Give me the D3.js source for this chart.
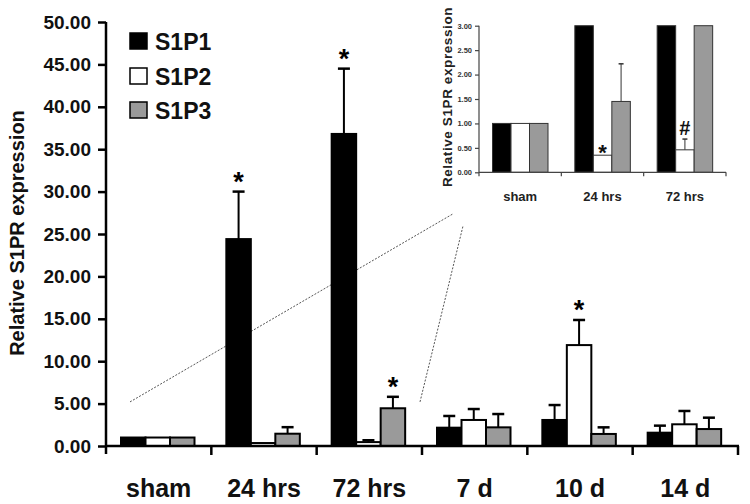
<!DOCTYPE html>
<html><head><meta charset="utf-8">
<script src="https://cdn.jsdelivr.net/npm/d3@7"></script>
<style>body{margin:0;background:#fff}svg{display:block}text{font-family:Arial,"Liberation Sans",sans-serif;font-weight:bold}</style>
</head><body>
<svg id="c" width="750" height="504"></svg>
<script>
// ---- data ----
const categories = ["sham", "24 hrs", "72 hrs", "7 d", "10 d", "14 d"];
const seriesNames = ["S1P1", "S1P2", "S1P3"];
const seriesColors = ["#000000", "#ffffff", "#9a9a9a"];
const s1p1 = [1.00, 24.4, 36.8, 2.16, 3.07, 1.57];
const s1p2 = [1.00, 0.35, 0.46, 3.07, 11.9, 2.56];
const s1p3 = [1.00, 1.45, 4.45, 2.20, 1.42, 2.00];
const s1p1Err = [null, 30.0, 44.5, 3.54, 4.83, 2.40];
const s1p2Err = [null, null, 0.68, 4.36, 14.86, 4.13];
const s1p3Err = [null, 2.22, 5.80, 3.77, 2.20, 3.34];
const mainStars = [[1,0,"*"],[2,0,"*"],[2,2,"*"],[4,1,"*"]]; // [category, series, mark]
const yTicks = [0,5,10,15,20,25,30,35,40,45,50];
// inset
const insetCats = ["sham", "24 hrs", "72 hrs"];
const insetTicks = [0,0.5,1,1.5,2,2.5,3];
const insetMax = 3;
const insetErrShown = [[1,2],[2,1]];
const insetMarks = [[1,1,"*"],[2,1,"#"]];
const zoomFrom = 5.2; // value on main axis where the zoom lines meet

const values = [s1p1, s1p2, s1p3];
const errs = [s1p1Err, s1p2Err, s1p3Err];

const svg = d3.select("#c");

// ---- main chart ----
const y = d3.scaleLinear().domain([0,50]).range([446,22]);
const x0 = d3.scaleBand().domain(categories).range([106,738]).padding(0);
const x1 = d3.scaleBand().domain(seriesNames).range([15,88.5]).padding(0);

// zoom dotted lines (behind bars)
const ix0 = d3.scaleBand().domain(insetCats).range([479,726]).padding(0);
const iy = d3.scaleLinear().domain([0,insetMax]).range([172.3,25.7]);
const zl = svg.append("g").attr("stroke","#555").attr("stroke-width",1).attr("stroke-dasharray","2,1.5").attr("fill","none");
zl.append("line").attr("x1", x0("sham")+24).attr("y1", y(zoomFrom)).attr("x2", ix0.range()[0]-26).attr("y2", iy(-0.85));
zl.append("line").attr("x1", x0("7 d")-2).attr("y1", y(zoomFrom)).attr("x2", ix0.range()[0]-16).attr("y2", iy(-1.1));

const rows = [];
categories.forEach((c,i)=>seriesNames.forEach((s,j)=>rows.push({c,i,s,j,v:values[j][i],e:errs[j][i]})));

const g = svg.append("g");
// error bars
rows.filter(d=>d.e!=null).forEach(d=>{
  const cx = x0(d.c)+x1(d.s)+x1.bandwidth()/2;
  g.append("line").attr("x1",cx).attr("x2",cx).attr("y1",y(d.v)).attr("y2",y(d.e)).attr("stroke","#000").attr("stroke-width",2);
  g.append("line").attr("x1",cx-6).attr("x2",cx+6).attr("y1",y(d.e)).attr("y2",y(d.e)).attr("stroke","#000").attr("stroke-width",2.5);
});
g.selectAll("rect.bar").data(rows).join("rect")
  .attr("x",d=>x0(d.c)+x1(d.s)).attr("width",x1.bandwidth())
  .attr("y",d=>y(d.v)).attr("height",d=>y(0)-y(d.v))
  .attr("fill",d=>seriesColors[d.j]).attr("stroke","#000").attr("stroke-width",2);

// stars
mainStars.forEach(([ci,sj,m])=>{
  const cx = x0(categories[ci])+x1(seriesNames[sj])+x1.bandwidth()/2;
  const top = errs[sj][ci]!=null?errs[sj][ci]:values[sj][ci];
  svg.append("text").attr("x",cx).attr("y",y(top)-1).attr("text-anchor","middle").attr("font-size",27).text(m);
});

// y axis
const yAxis = svg.append("g").attr("transform","translate(106,0)")
  .call(d3.axisLeft(y).tickValues(yTicks).tickFormat(d3.format(".2f")).tickSize(8).tickPadding(7));
yAxis.select(".domain").attr("stroke","#000").attr("stroke-width",2.5).attr("d","M0,"+(y(0)+8)+"V"+y(50));
yAxis.selectAll(".tick line").attr("stroke","#000").attr("stroke-width",2.5);
yAxis.selectAll("text").attr("font-size",19).attr("fill","#111").attr("font-family","Arial,'Liberation Sans',sans-serif").attr("font-weight","bold");

// x axis
svg.append("line").attr("x1",106).attr("x2",739).attr("y1",y(0)).attr("y2",y(0)).attr("stroke","#000").attr("stroke-width",2.5);
const bounds = categories.map(c=>x0(c)+x0.bandwidth());
svg.selectAll("line.xt").data(bounds).join("line").attr("class","xt")
  .attr("x1",d=>d).attr("x2",d=>d).attr("y1",y(0)).attr("y2",y(0)+9).attr("stroke","#000").attr("stroke-width",2.5);
svg.selectAll("text.xl").data(categories).join("text").attr("class","xl")
  .attr("x",d=>x0(d)+x0.bandwidth()/2).attr("y",497).attr("text-anchor","middle").attr("font-size",25).attr("fill","#111").text(d=>d);

// y title
svg.append("text").attr("transform","translate(24,233) rotate(-90)").attr("text-anchor","middle").attr("font-size",20).attr("fill","#111").text("Relative S1PR expression");

// legend
seriesNames.forEach((s,j)=>{
  const ly = [33,68,102][j];
  svg.append("rect").attr("x",130).attr("y",ly).attr("width",17).attr("height",16).attr("fill",seriesColors[j]).attr("stroke","#000").attr("stroke-width",1.5);
  svg.append("text").attr("x",155).attr("y",ly+17).attr("font-size",23).attr("fill","#111").text(s);
});

// ---- inset ----
const ix1 = d3.scaleBand().domain(seriesNames).range([13.5,69]).padding(0);
const ig = svg.append("g");
const irows = [];
insetCats.forEach((c,i)=>seriesNames.forEach((s,j)=>irows.push({c,i,s,j,v:Math.min(values[j][i],insetMax)})));
insetErrShown.forEach(([ci,sj])=>{
  const cx = ix0(insetCats[ci])+ix1(seriesNames[sj])+ix1.bandwidth()/2;
  ig.append("line").attr("x1",cx).attr("x2",cx).attr("y1",iy(values[sj][ci])).attr("y2",iy(errs[sj][ci])).attr("stroke","#333").attr("stroke-width",1);
  ig.append("line").attr("x1",cx-2.5).attr("x2",cx+2.5).attr("y1",iy(errs[sj][ci])).attr("y2",iy(errs[sj][ci])).attr("stroke","#333").attr("stroke-width",1.5);
});
ig.selectAll("rect").data(irows).join("rect")
  .attr("x",d=>ix0(d.c)+ix1(d.s)).attr("width",ix1.bandwidth())
  .attr("y",d=>iy(d.v)).attr("height",d=>iy(0)-iy(d.v))
  .attr("fill",d=>seriesColors[d.j]).attr("stroke","#333").attr("stroke-width",1);
insetMarks.forEach(([ci,sj,m])=>{
  const cx = ix0(insetCats[ci])+ix1(seriesNames[sj])+ix1.bandwidth()/2;
  const top = (insetErrShown.some(p=>p[0]===ci&&p[1]===sj))?errs[sj][ci]:values[sj][ci];
  svg.append("text").attr("x",cx).attr("y",iy(top)+(m==="*"?5:-4)).attr("text-anchor","middle").attr("font-size",m==="*"?22:20).attr("fill","#111").text(m);
});
const iAxis = svg.append("g").attr("transform","translate(479,0)")
  .call(d3.axisLeft(iy).tickValues(insetTicks).tickFormat(d3.format(".2f")).tickSize(4).tickPadding(3));
iAxis.select(".domain").attr("stroke","#444").attr("stroke-width",1.2).attr("d","M0,"+(iy(0)+4)+"V"+iy(insetMax));
iAxis.selectAll(".tick line").attr("stroke","#444").attr("stroke-width",1.2);
iAxis.selectAll("text").attr("font-size",7.5).attr("fill","#333").attr("font-family","Arial,'Liberation Sans',sans-serif").attr("font-weight","bold");
svg.append("line").attr("x1",479).attr("x2",726).attr("y1",iy(0)).attr("y2",iy(0)).attr("stroke","#444").attr("stroke-width",1.2);
svg.selectAll("line.ixt").data(insetCats.map(c=>ix0(c)+ix0.bandwidth())).join("line").attr("class","ixt")
  .attr("x1",d=>d).attr("x2",d=>d).attr("y1",iy(0)).attr("y2",iy(0)+4).attr("stroke","#444").attr("stroke-width",1.2);
svg.selectAll("text.ixl").data(insetCats).join("text").attr("class","ixl")
  .attr("x",d=>ix0(d)+ix0.bandwidth()/2).attr("y",201).attr("text-anchor","middle").attr("font-size",13).attr("fill","#222").text(d=>d);
svg.append("text").attr("transform","translate(452,97) rotate(-90)").attr("text-anchor","middle").attr("font-size",13.5).attr("letter-spacing",0.6).attr("fill","#222").text("Relative S1PR expression");
</script>
</body></html>
